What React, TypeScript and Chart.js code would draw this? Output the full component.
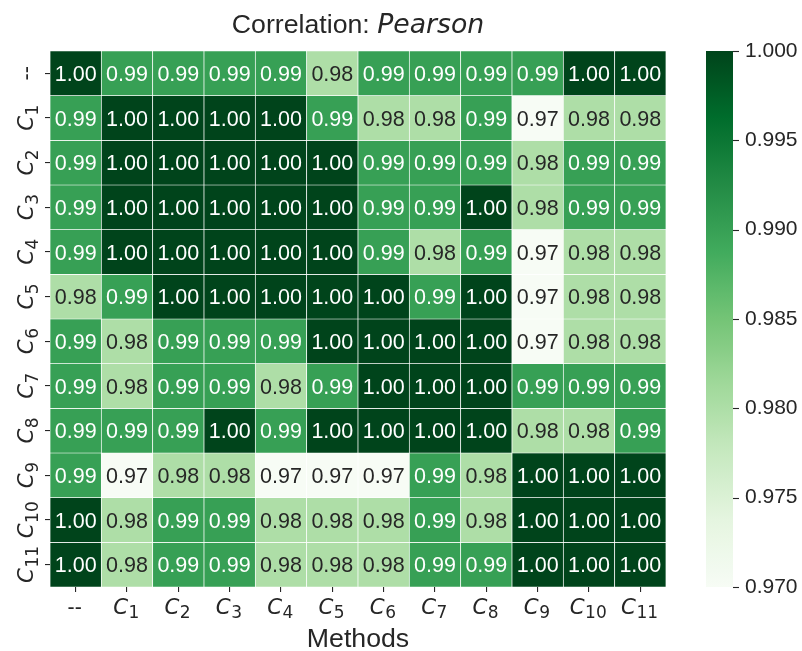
import React, { useEffect, useRef } from 'react';
import { Chart, registerables } from 'chart.js';

Chart.register(...registerables);

// Row / column names: base text and subscript
const methodBase = ['--', 'C', 'C', 'C', 'C', 'C', 'C', 'C', 'C', 'C', 'C', 'C'];
const methodSub = ['', '1', '2', '3', '4', '5', '6', '7', '8', '9', '10', '11'];

// Correlation values, one row per method (top to bottom)
const rowDash = [1.0, 0.99, 0.99, 0.99, 0.99, 0.98, 0.99, 0.99, 0.99, 0.99, 1.0, 1.0];
const rowC1 = [0.99, 1.0, 1.0, 1.0, 1.0, 0.99, 0.98, 0.98, 0.99, 0.97, 0.98, 0.98];
const rowC2 = [0.99, 1.0, 1.0, 1.0, 1.0, 1.0, 0.99, 0.99, 0.99, 0.98, 0.99, 0.99];
const rowC3 = [0.99, 1.0, 1.0, 1.0, 1.0, 1.0, 0.99, 0.99, 1.0, 0.98, 0.99, 0.99];
const rowC4 = [0.99, 1.0, 1.0, 1.0, 1.0, 1.0, 0.99, 0.98, 0.99, 0.97, 0.98, 0.98];
const rowC5 = [0.98, 0.99, 1.0, 1.0, 1.0, 1.0, 1.0, 0.99, 1.0, 0.97, 0.98, 0.98];
const rowC6 = [0.99, 0.98, 0.99, 0.99, 0.99, 1.0, 1.0, 1.0, 1.0, 0.97, 0.98, 0.98];
const rowC7 = [0.99, 0.98, 0.99, 0.99, 0.98, 0.99, 1.0, 1.0, 1.0, 0.99, 0.99, 0.99];
const rowC8 = [0.99, 0.99, 0.99, 1.0, 0.99, 1.0, 1.0, 1.0, 1.0, 0.98, 0.98, 0.99];
const rowC9 = [0.99, 0.97, 0.98, 0.98, 0.97, 0.97, 0.97, 0.99, 0.98, 1.0, 1.0, 1.0];
const rowC10 = [1.0, 0.98, 0.99, 0.99, 0.98, 0.98, 0.98, 0.99, 0.98, 1.0, 1.0, 1.0];
const rowC11 = [1.0, 0.98, 0.99, 0.99, 0.98, 0.98, 0.98, 0.99, 0.99, 1.0, 1.0, 1.0];

const matrix = [rowDash, rowC1, rowC2, rowC3, rowC4, rowC5, rowC6, rowC7, rowC8, rowC9, rowC10, rowC11];

const colorMin = 0.97;
const colorMax = 1.0;
const colorbarTicks = [0.97, 0.975, 0.98, 0.985, 0.99, 0.995, 1.0];

const greensStops = ['#f7fcf5', '#e5f5e0', '#c7e9c0', '#a1d99b', '#74c476', '#41ab5d', '#238b45', '#006d2c', '#00441b'];

function hexToRgb(h: string): number[] {
  return [parseInt(h.slice(1, 3), 16), parseInt(h.slice(3, 5), 16), parseInt(h.slice(5, 7), 16)];
}

function greensRgb(v: number): number[] {
  let t = (v - colorMin) / (colorMax - colorMin);
  t = Math.max(0, Math.min(1, t));
  const p = t * (greensStops.length - 1);
  const i = Math.min(Math.floor(p), greensStops.length - 2);
  const f = p - i;
  const a = hexToRgb(greensStops[i]);
  const b = hexToRgb(greensStops[i + 1]);
  return [0, 1, 2].map((k) => Math.round(a[k] + (b[k] - a[k]) * f));
}

function greens(v: number): string {
  const c = greensRgb(v);
  return `rgb(${c[0]},${c[1]},${c[2]})`;
}

function textColorFor(v: number): string {
  const c = greensRgb(v).map((x) => {
    const s = x / 255;
    return s <= 0.03928 ? s / 12.92 : Math.pow((s + 0.055) / 1.055, 2.4);
  });
  const lum = 0.2126 * c[0] + 0.7152 * c[1] + 0.0722 * c[2];
  return lum > 0.408 ? '#262626' : '#ffffff';
}

const TEXT = '#262626';
const SANS = '"Liberation Sans", Arial, sans-serif';
const MATH = '"DejaVu Sans", sans-serif';

function drawMethodLabel(ctx: CanvasRenderingContext2D, idx: number, x: number, y: number) {
  const base = methodBase[idx];
  const sub = methodSub[idx];
  if (!sub) {
    ctx.font = `21.3px ${SANS}`;
    const w = ctx.measureText(base).width;
    ctx.fillText(base, x - w / 2, y);
    return;
  }
  ctx.font = `italic 21.3px ${MATH}`;
  const wb = ctx.measureText(base).width;
  ctx.font = `17px ${MATH}`;
  const ws = ctx.measureText(sub).width;
  const start = x - (wb + ws) / 2;
  ctx.font = `italic 21.3px ${MATH}`;
  ctx.fillText(base, start, y);
  ctx.font = `17px ${MATH}`;
  ctx.fillText(sub, start + wb + 0.5, y + 4.5);
}

const heatPlugin = {
  id: 'heatExtras',
  afterDatasetsDraw(chart: any) {
    const ctx: CanvasRenderingContext2D = chart.ctx;
    ctx.save();
    ctx.textAlign = 'center';
    ctx.textBaseline = 'alphabetic';
    ctx.font = `21.5px ${SANS}`;
    chart.data.datasets.forEach((_ds: any, r: number) => {
      const meta = chart.getDatasetMeta(r);
      meta.data.forEach((el: any, c: number) => {
        const p = el.getProps(['x', 'y', 'base'], true);
        const cy = (p.y + p.base) / 2;
        const v = matrix[r][c];
        ctx.fillStyle = textColorFor(v);
        ctx.fillText(v.toFixed(2), p.x, cy + 7.7);
      });
    });
    ctx.restore();
  },
  afterDraw(chart: any) {
    const ctx: CanvasRenderingContext2D = chart.ctx;
    const area = chart.chartArea;
    const xs = chart.scales.x;
    const ys = chart.scales.y;
    const cb = chart.scales.cb;
    ctx.save();
    ctx.fillStyle = TEXT;
    ctx.textAlign = 'left';
    ctx.textBaseline = 'alphabetic';

    // x tick labels
    methodBase.forEach((_b, i) => {
      const x = xs.getPixelForValue(i) - 1;
      drawMethodLabel(ctx, i, x, area.bottom + 26.5);
    });

    // y tick labels (rotated)
    methodBase.forEach((_b, i) => {
      const y = ys.getPixelForValue(i + 0.5);
      ctx.save();
      ctx.translate(area.left - 17, y);
      ctx.rotate(-Math.PI / 2);
      drawMethodLabel(ctx, i, 0, 0);
      ctx.restore();
    });

    // Title
    const titleA = 'Correlation: ';
    const titleB = 'Pearson';
    ctx.font = `26.7px ${SANS}`;
    const wa = ctx.measureText(titleA).width;
    ctx.font = `italic 26.7px ${MATH}`;
    const wbT = ctx.measureText(titleB).width;
    const cx = (area.left + area.right) / 2;
    const tx = cx - (wa + wbT) / 2;
    ctx.font = `26.7px ${SANS}`;
    ctx.fillText(titleA, tx, area.top - 18);
    ctx.font = `italic 26.7px ${MATH}`;
    ctx.fillText(titleB, tx + wa, area.top - 18);

    // x axis title
    ctx.font = `26.7px ${SANS}`;
    ctx.textAlign = 'center';
    ctx.fillText('Methods', cx, area.bottom + 60);

    // colorbar
    const cbLeft = area.right + 40;
    const cbWidth = 27;
    const yTop = cb.getPixelForValue(colorMax);
    const yBot = cb.getPixelForValue(colorMin);
    const grad = ctx.createLinearGradient(0, yBot, 0, yTop);
    const n = 32;
    for (let k = 0; k <= n; k++) {
      grad.addColorStop(k / n, greens(colorMin + (colorMax - colorMin) * (k / n)));
    }
    ctx.fillStyle = grad;
    ctx.fillRect(cbLeft, yTop, cbWidth, yBot - yTop);
    ctx.strokeStyle = TEXT;
    ctx.lineWidth = 1.1;
    colorbarTicks.forEach((v) => {
      const y = Math.round(cb.getPixelForValue(v)) + 0.5;
      ctx.beginPath();
      ctx.moveTo(cbLeft + cbWidth, y);
      ctx.lineTo(cbLeft + cbWidth + 6, y);
      ctx.stroke();
    });
    ctx.restore();
  },
};

export default function App() {
  const ref = useRef<HTMLCanvasElement | null>(null);
  useEffect(() => {
    if (!ref.current) return;
    const datasets = matrix.map((row, r) => ({
      label: methodBase[r] + methodSub[r],
      data: row.map(() => [r, r + 1]),
      backgroundColor: row.map((v) => greens(v)),
      borderColor: '#ffffff',
      borderWidth: 0.7,
      borderSkipped: false,
      barPercentage: 1,
      categoryPercentage: 1,
      grouped: false,
      xAxisID: 'x',
      yAxisID: 'y',
    }));
    const zeroPad = (s: any) => {
      s.paddingTop = 0;
      s.paddingBottom = 0;
      s.paddingLeft = 0;
      s.paddingRight = 0;
    };
    const chart = new Chart(ref.current, {
      type: 'bar',
      data: {
        labels: methodBase.map((b, i) => b + methodSub[i]),
        datasets: datasets as any,
      },
      plugins: [heatPlugin],
      options: {
        responsive: false,
        animation: false,
        events: [],
        layout: { padding: 0 },
        plugins: {
          legend: { display: false },
          tooltip: { enabled: false },
          title: { display: false },
        },
        scales: {
          x: {
            type: 'category',
            position: 'bottom',
            offset: true,
            afterFit: (s: any) => {
              s.height = 64;
              zeroPad(s);
            },
            ticks: { display: false },
            border: { display: false },
            grid: {
              display: true,
              offset: false,
              drawOnChartArea: false,
              drawTicks: true,
              tickLength: 5,
              color: TEXT,
              lineWidth: 1.1,
            },
          },
          topSpace: {
            type: 'linear',
            position: 'top',
            display: true,
            afterFit: (s: any) => {
              s.height = 51;
              zeroPad(s);
            },
            ticks: { display: false },
            border: { display: false },
            grid: { display: false, drawTicks: false, drawOnChartArea: false },
          },
          y: {
            type: 'linear',
            position: 'left',
            min: 0,
            max: matrix.length,
            reverse: true,
            afterBuildTicks: (s: any) => {
              s.ticks = matrix.map((_r, i) => ({ value: i + 0.5 }));
            },
            afterFit: (s: any) => {
              s.width = 50;
              zeroPad(s);
            },
            ticks: { display: false },
            border: { display: false },
            grid: {
              display: true,
              drawOnChartArea: false,
              drawTicks: true,
              tickLength: 5,
              color: TEXT,
              lineWidth: 1.1,
            },
          },
          cb: {
            type: 'linear',
            position: 'right',
            min: colorMin,
            max: colorMax,
            afterBuildTicks: (s: any) => {
              s.ticks = colorbarTicks.map((v) => ({ value: v }));
            },
            afterFit: (s: any) => {
              s.width = 136;
              zeroPad(s);
            },
            ticks: {
              display: true,
              padding: 79,
              color: TEXT,
              font: { family: 'Liberation Sans', size: 21 },
              callback: (v: any) => Number(v).toFixed(3),
            },
            border: { display: false },
            grid: { display: false, drawTicks: false, drawOnChartArea: false },
          },
        },
      } as any,
    });
    return () => chart.destroy();
  }, []);
  return (
    <div style={{ position: 'fixed', left: 0, top: 0, width: 802, height: 651, background: '#fff' }}>
      <canvas ref={ref} width={802} height={651} style={{ width: 802, height: 651, display: 'block' }} />
    </div>
  );
}
